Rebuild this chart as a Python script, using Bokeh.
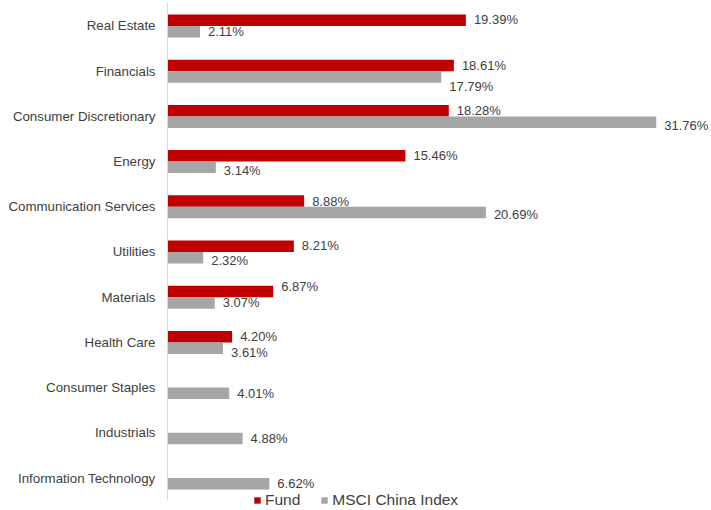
from bokeh.plotting import figure
from bokeh.models import ColumnDataSource, Range1d, FixedTicker, Legend, LegendItem, LabelSet
from bokeh.transform import dodge
from bokeh.core.properties import value
from bokeh.embed import file_html
from bokeh.resources import INLINE

sectors = ["Real Estate", "Financials", "Consumer Discretionary", "Energy",
           "Communication Services", "Utilities", "Materials", "Health Care",
           "Consumer Staples", "Industrials", "Information Technology"]
fund = [19.39, 18.61, 18.28, 15.46, 8.88, 8.21, 6.87, 4.20, None, None, None]
msci = [2.11, 17.79, 31.76, 3.14, 20.69, 2.32, 3.07, 3.61, 4.01, 4.88, 6.62]

# small vertical nudges (px, down) of data labels, as placed in the reference
fund_label_nudge = [1, 0, 0, 0, 0, 1, 5, 0, 0, 0, 0]
msci_label_nudge = [0, -10, -3, -3, -2, -3, 0, -4, 0, 0, 0]

RED = "#C00000"
GREY = "#A6A6A6"
TXT = "#404040"
FONT = "Liberation Sans"

idx = list(range(len(sectors)))
fund_src = ColumnDataSource(dict(
    y=[i for i, v in zip(idx, fund) if v is not None],
    v=[v for v in fund if v is not None],
    lab=["%.2f%%" % v for v in fund if v is not None],
    dy=[n for n, v in zip(fund_label_nudge, fund) if v is not None],
))
msci_src = ColumnDataSource(dict(
    y=idx, v=msci, lab=["%.2f%%" % v for v in msci], dy=msci_label_nudge,
))

p = figure(width=711, height=510, output_backend="svg", toolbar_location=None,
           x_range=Range1d(0, 35.35), y_range=Range1d(10.719, -0.564),
           min_border_left=167, min_border_right=0, min_border_top=0,
           min_border_bottom=0, outline_line_color=None, x_axis_location=None)
p.grid.visible = False
p.background_fill_color = "white"
p.border_fill_color = "white"

bh = 0.254
off = bh / 2
r1 = p.hbar(y=dodge("y", -off, range=p.y_range), right="v", left=0, height=bh,
            source=fund_src, fill_color=RED, line_color=None)
r2 = p.hbar(y=dodge("y", off, range=p.y_range), right="v", left=0, height=bh,
            source=msci_src, fill_color=GREY, line_color=None)

for src, d in ((fund_src, -off), (msci_src, off)):
    labels = LabelSet(x="v", y=dodge("y", d, range=p.y_range), text="lab", source=src,
                      x_offset=8, y_offset="dy", text_baseline="middle",
                      text_font=value(FONT), text_font_size=value("13px"),
                      text_color=value(TXT))
    p.add_layout(labels)

ax = p.yaxis[0]
ax.ticker = FixedTicker(ticks=idx)
ax.major_label_overrides = {i: s for i, s in zip(idx, sectors)}
ax.major_tick_line_color = None
ax.minor_tick_line_color = None
ax.major_tick_out = 0
ax.major_tick_in = 0
ax.major_label_standoff = 12
ax.major_label_text_font = FONT
ax.major_label_text_font_size = "13.3px"
ax.major_label_text_color = TXT
ax.axis_line_color = "#D9D9D9"
ax.axis_line_width = 1
ax.bounds = (-0.51, 10.5)

legend = Legend(items=[LegendItem(label="Fund", renderers=[r1]),
                       LegendItem(label="MSCI China Index", renderers=[r2])],
                orientation="horizontal", location=(86, 1.5),
                border_line_color=None, background_fill_alpha=0,
                padding=0, margin=0, spacing=20, label_standoff=4,
                glyph_width=8, glyph_height=8, label_height=16,
                label_text_font=FONT, label_text_font_size="15.5px",
                label_text_color=TXT)
p.add_layout(legend, "center")

open("out.html", "w").write(file_html(p, INLINE))
